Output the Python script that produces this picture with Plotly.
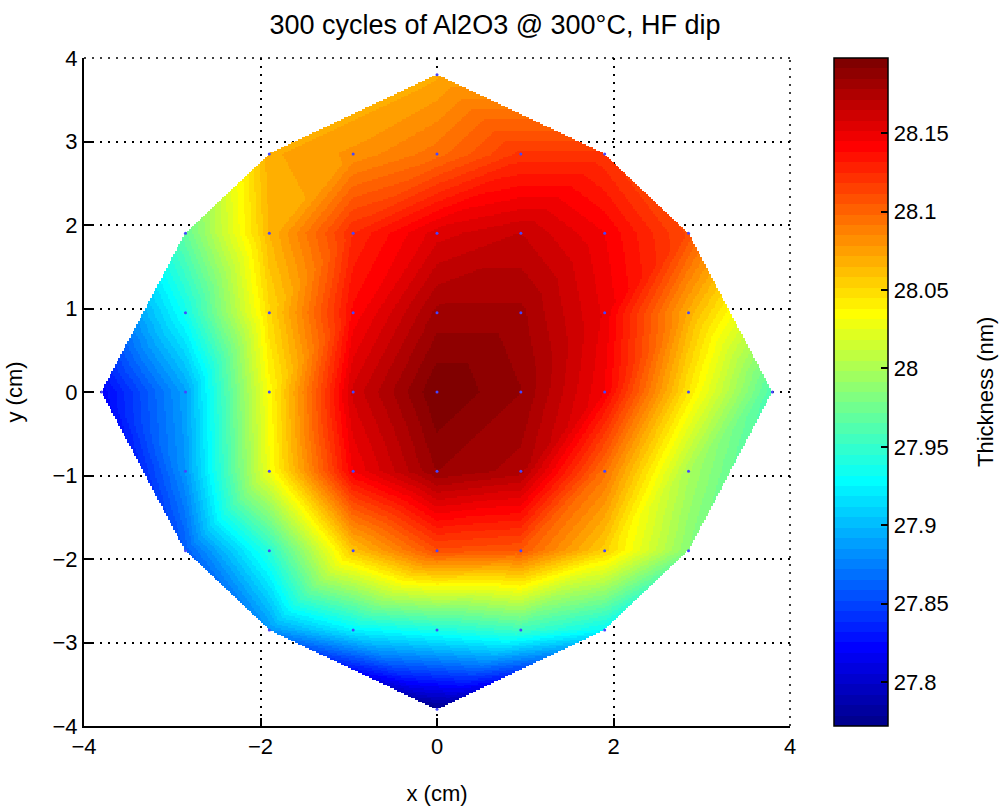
import numpy as np
import plotly.graph_objects as go

# Measurement lattice pitch (cm); sites sit at (i*PITCH, j*PITCH) with i^2 + j^2 <= 16
PITCH = 0.95

# Thickness (nm) by row: row index j, first column index, values left to right
row_p4 = [28.07]
row_p3 = [28.07, 28.08, 28.095, 28.12, 28.12]
row_p2 = [27.97, 28.065, 28.125, 28.155, 28.165, 28.145, 28.11]
row_p1 = [27.935, 28.05, 28.14, 28.18, 28.18, 28.15, 28.07]
row_0 = [27.82, 27.89, 28.035, 28.16, 28.198, 28.185, 28.145, 28.045, 27.96]
row_m1 = [27.885, 28.03, 28.145, 28.185, 28.175, 28.095, 28.0]
row_m2 = [27.86, 27.945, 28.06, 28.11, 28.105, 28.055, 27.985]
row_m3 = [27.885, 27.925, 27.94, 27.955, 27.93]
row_m4 = [27.772]

row_index = [4, 3, 2, 1, 0, -1, -2, -3, -4]
row_start = [0, -2, -3, -3, -4, -3, -3, -2, 0]
row_values = [row_p4, row_p3, row_p2, row_p1, row_0, row_m1, row_m2, row_m3, row_m4]

cbar_ticks = [27.8, 27.85, 27.9, 27.95, 28.0, 28.05, 28.1, 28.15]
cbar_labels = ["27.8", "27.85", "27.9", "27.95", "28", "28.05", "28.1", "28.15"]

# ---- site table -----------------------------------------------------------
site = {}
for j, i0, vals in zip(row_index, row_start, row_values):
    for k, v in enumerate(vals):
        site[(i0 + k, j)] = v

# ---- triangulation of the lattice (convex hull of the sites) ----------------
tris = []
for i in range(-4, 4):
    for j in range(-4, 4):
        a, b, c, d = (i, j), (i + 1, j), (i + 1, j + 1), (i, j + 1)
        have = [p for p in (a, b, c, d) if p in site]
        if len(have) == 4:
            tris.append((a, b, c))
            tris.append((a, c, d))
        elif len(have) == 3:
            tris.append(tuple(have))
# fans towards the four edge sites on the axes
for (u, v) in [(1, 0), (-1, 0), (0, 1), (0, -1)]:
    tip = (4 * u, 4 * v)
    p, q = -v, u
    for s in (1, -1):
        tris.append((tip, (3 * u + s * p, 3 * v + s * q), (3 * u + 2 * s * p, 3 * v + 2 * s * q)))

# ---- linear interpolation on a fine grid ------------------------------------
xs = np.linspace(-3.8, 3.8, 381)
ys = np.linspace(-3.8, 3.8, 381)
GX, GY = np.meshgrid(xs, ys)
Z = np.full(GX.shape, np.nan)
for t in tris:
    (x1, y1), (x2, y2), (x3, y3) = [(p[0] * PITCH, p[1] * PITCH) for p in t]
    z1, z2, z3 = [site[p] for p in t]
    det = (y2 - y3) * (x1 - x3) + (x3 - x2) * (y1 - y3)
    l1 = ((y2 - y3) * (GX - x3) + (x3 - x2) * (GY - y3)) / det
    l2 = ((y3 - y1) * (GX - x3) + (x1 - x3) * (GY - y3)) / det
    l3 = 1 - l1 - l2
    inside = (l1 >= -1e-9) & (l2 >= -1e-9) & (l3 >= -1e-9)
    Z[inside] = (l1 * z1 + l2 * z2 + l3 * z3)[inside]


# ---- MATLAB-style jet(64) as a stepped colour scale -------------------------
def jet(m=64):
    n = int(np.ceil(m / 4))
    u = np.r_[np.arange(1, n + 1) / n, np.ones(n - 1), np.arange(n, 0, -1) / n]
    g = int(np.ceil(n / 2)) - int(m % 4 == 1) + np.arange(1, len(u) + 1)
    r = g + n
    b = g - n
    J = np.zeros((m, 3))
    k = r <= m
    J[r[k] - 1, 0] = u[k]
    k = g <= m
    J[g[k] - 1, 1] = u[k]
    k = b >= 1
    J[b[k] - 1, 2] = u[k]
    return J


cmap = jet(64)
colorscale = []
for k, (r, g, b) in enumerate(cmap):
    col = f"rgb({int(round(r * 255))},{int(round(g * 255))},{int(round(b * 255))})"
    colorscale.append([k / 64, col])
    colorscale.append([(k + 1) / 64, col])

vals_all = np.array(list(site.values()))
zmin, zmax = float(vals_all.min()), float(vals_all.max())
FONT = "Liberation Sans, Arial, sans-serif"
GRID_DASH = "2px,6px"

# plot area is 706 px wide (left margin 84); colour bar starts 44 px right of it
PLOT_W = 706
CB_X = (834 - 84) / PLOT_W
CB_TICK = 7 / PLOT_W

fig = go.Figure()
fig.add_trace(go.Heatmap(
    x=xs, y=ys, z=Z, zsmooth=False,
    colorscale=colorscale, zmin=zmin, zmax=zmax,
    hoverinfo="skip",
    colorbar=dict(
        x=CB_X, xanchor="left", xref="paper", xpad=0, ypad=0,
        y=0.5, yanchor="middle", len=1.0, lenmode="fraction",
        thickness=54, thicknessmode="pixels",
        outlinecolor="black", outlinewidth=1.5,
        ticks="inside", ticklen=7, tickcolor="black", tickwidth=1.5,
        tickvals=cbar_ticks, ticktext=cbar_labels,
        tickfont=dict(family=FONT, size=22, color="black"),
    ),
))

sx = [p[0] * PITCH for p in site]
sy = [p[1] * PITCH for p in site]
fig.add_trace(go.Scatter(
    x=sx, y=sy, mode="markers",
    marker=dict(color="rgb(70,70,255)", size=3),
    hoverinfo="skip", showlegend=False,
))

axis_common = dict(
    range=[-4, 4], showgrid=True, gridcolor="black", griddash=GRID_DASH, gridwidth=1.5,
    zeroline=False, showline=True, linecolor="black", linewidth=2,
    ticks="inside", ticklen=8, tickcolor="black", tickwidth=2,
    tickfont=dict(family=FONT, size=22, color="black"),
)

# dotted frame on the top and right sides of the axes
shapes = [
    dict(type="line", xref="paper", yref="paper", x0=1, x1=1, y0=0, y1=1,
         line=dict(color="black", width=1.5, dash=GRID_DASH), layer="below"),
    dict(type="line", xref="paper", yref="paper", x0=0, x1=1, y0=1, y1=1,
         line=dict(color="black", width=1.5, dash=GRID_DASH), layer="below"),
]
# matching tick marks on the left edge of the colour bar
for tv in cbar_ticks:
    fy = (tv - zmin) / (zmax - zmin)
    shapes.append(dict(type="line", xref="paper", yref="paper",
                       x0=CB_X, x1=CB_X + CB_TICK, y0=fy, y1=fy,
                       line=dict(color="black", width=1.5)))

fig.update_layout(
    width=1003, height=806,
    margin=dict(l=84, r=213, t=58, b=80, autoexpand=False),
    paper_bgcolor="white", plot_bgcolor="white",
    title=dict(text="300 cycles of Al2O3 @ 300°C, HF dip", x=0.4935, xref="container",
               xanchor="center", y=0.97, yref="container", yanchor="middle",
               font=dict(family=FONT, size=27, color="black")),
    xaxis=dict(axis_common, tickvals=[-4, -2, 0, 2, 4],
               title=dict(text="x (cm)", standoff=28, font=dict(family=FONT, size=22, color="black"))),
    yaxis=dict(axis_common, dtick=1,
               title=dict(text="y (cm)", standoff=24, font=dict(family=FONT, size=22, color="black"))),
    showlegend=False,
    shapes=shapes,
    annotations=[
        dict(text="Thickness (nm)", textangle=-90, xref="paper", yref="paper",
             x=(985 - 84) / PLOT_W, y=0.5, xanchor="center", yanchor="middle",
             showarrow=False, font=dict(family=FONT, size=22, color="black")),
    ],
)

fig.write_html("out.html")
